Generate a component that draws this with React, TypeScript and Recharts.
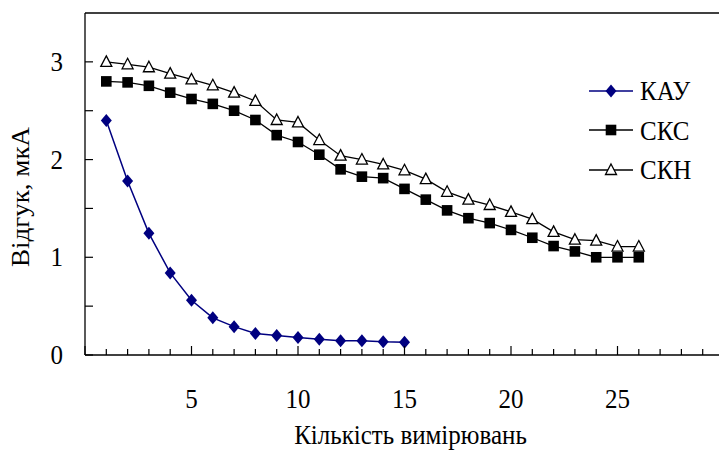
import React from 'react';
import { LineChart, Line, XAxis, YAxis, ReferenceLine, Legend } from 'recharts';

// measurement number (x) and the three sensor responses, µA
const counts = [1, 2, 3, 4, 5, 6, 7, 8, 9, 10, 11, 12, 13, 14, 15, 16, 17, 18, 19, 20, 21, 22, 23, 24, 25, 26];
const kau = [2.40, 1.78, 1.245, 0.84, 0.56, 0.38, 0.29, 0.22, 0.20, 0.18, 0.16, 0.145, 0.145, 0.135, 0.13];
const sks = [2.80, 2.79, 2.755, 2.685, 2.62, 2.57, 2.50, 2.405, 2.25, 2.18, 2.05, 1.90, 1.825, 1.81, 1.70, 1.59, 1.48, 1.40, 1.35, 1.28, 1.20, 1.115, 1.06, 1.00, 1.00, 1.00];
const skn = [3.00, 2.975, 2.945, 2.88, 2.82, 2.76, 2.685, 2.60, 2.405, 2.38, 2.20, 2.04, 2.00, 1.95, 1.89, 1.80, 1.67, 1.59, 1.535, 1.465, 1.39, 1.26, 1.18, 1.17, 1.11, 1.11];

const xTicks = [0, 1, 2, 3, 4, 5, 6, 7, 8, 9, 10, 11, 12, 13, 14, 15, 16, 17, 18, 19, 20, 21, 22, 23, 24, 25, 26, 27, 28, 29, 30];
const xLabels = [5, 10, 15, 20, 25];
const yTicks = [0, 0.5, 1, 1.5, 2, 2.5, 3];
const yLabels = [0, 1, 2, 3];

const data = counts.map((n, i) => ({ n, kau: kau[i] ?? null, sks: sks[i] ?? null, skn: skn[i] ?? null }));

const FONT = 'Liberation Serif';
const FS = 25;
const STRETCH = 1.08; // the source picture is a little taller than wide
const NAVY = '#000080';

const Diamond = ({ cx, cy }: any) => (
    <path d={`M${cx} ${cy - 6.5}L${cx + 5.5} ${cy}L${cx} ${cy + 6.5}L${cx - 5.5} ${cy}Z`} fill={NAVY} />
);
const Square = ({ cx, cy }: any) => (
    <rect x={cx - 5.3} y={cy - 5.3} width={10.6} height={10.6} fill="#000" />
);
const Triangle = ({ cx, cy }: any) => (
    <path d={`M${cx} ${cy - 6}L${cx + 5.5} ${cy + 4.5}L${cx - 5.5} ${cy + 4.5}Z`} fill="#fff" stroke="#000" strokeWidth={1.3} />
);

const series = [
    { key: 'kau', name: 'КАУ', color: NAVY, width: 1.5, shape: Diamond },
    { key: 'sks', name: 'СКС', color: '#000', width: 1.3, shape: Square },
    { key: 'skn', name: 'СКН', color: '#000', width: 1.3, shape: Triangle },
];

const dotFor = (Shape: any) => (p: any) => {
    if (p.cx == null || p.cy == null || p.value == null) return <g key={`e-${p.index}`} />;
    return <Shape key={`m-${p.index}`} cx={p.cx} cy={p.cy} />;
};

// text drawn with its baseline at (x, y), slightly stretched upward
const Txt = ({ x, y, anchor = 'middle', rotate = 0, children }: any) => (
    <text transform={`translate(${x},${y}) scale(1,${STRETCH}) rotate(${rotate})`} x={0} y={0}
        textAnchor={anchor} fontFamily={FONT} fontSize={FS} fill="#000">{children}</text>
);

const XTick = ({ x, y, payload }: any) => {
    const v = payload.value;
    const major = v % 5 === 0;
    return (
        <g>
            <line x1={x} x2={x} y1={y} y2={y - (major ? 9 : 6)} stroke="#000" strokeWidth={1.2} />
            {xLabels.includes(v) && <Txt x={x} y={y + 53}>{v}</Txt>}
        </g>
    );
};

const YTick = ({ x, y, payload }: any) => {
    const v = payload.value;
    return (
        <g>
            <line x1={x} x2={x + 8} y1={y} y2={y} stroke="#000" strokeWidth={1.2} />
            {yLabels.includes(v) && <Txt x={x - 22} y={y + 9} anchor="end">{v}</Txt>}
        </g>
    );
};

const YTitle = ({ viewBox }: any) => (
    <Txt x={viewBox.x + 29} y={viewBox.y + viewBox.height / 2 + 13} rotate={-90}>Відгук, мкА</Txt>
);

const XTitle = ({ viewBox }: any) => (
    <Txt x={viewBox.x + viewBox.width / 2 + 6} y={viewBox.y + 89}>Кількість вимірювань</Txt>
);

const LegendBox = () => (
    <div style={{ fontFamily: FONT, fontSize: FS, color: '#000' }}>
        {series.map(s => {
            const Shape = s.shape;
            return (
                <div key={s.key} style={{ display: 'flex', alignItems: 'center', height: 39.5 }}>
                    <svg width={46} height={20}>
                        <line x1={1} x2={45} y1={10} y2={10} stroke={s.color} strokeWidth={1.5} />
                        <Shape cx={23} cy={10} />
                    </svg>
                    <span style={{ marginLeft: 6, lineHeight: '25px', display: 'inline-block', transform: `scaleY(${STRETCH})` }}>{s.name}</span>
                </div>
            );
        })}
    </div>
);

const App: React.FC = () => {
    return (
        <div style={{ width: 719, height: 452, overflow: 'hidden', background: '#fff' }}>
            <style>{'body{margin:0;overflow:hidden;}'}</style>
            <LineChart width={740} height={452} data={data} margin={{ top: 13, right: 16, bottom: 0, left: 0 }}>
                <XAxis dataKey="n" type="number" domain={[0, 30]} ticks={xTicks} interval={0}
                    height={97} tickSize={0} tickMargin={0} tickLine={false}
                    axisLine={{ stroke: '#000', strokeWidth: 1.3 }} tick={<XTick />} label={<XTitle />} />
                <YAxis type="number" domain={[0, 3.5]} ticks={yTicks} interval={0}
                    width={85} tickSize={0} tickMargin={0} tickLine={false}
                    axisLine={{ stroke: '#000', strokeWidth: 1.3 }} tick={<YTick />} label={<YTitle />} />
                <ReferenceLine y={3.5} stroke="#000" strokeWidth={1.3} />
                <Legend layout="vertical" align="center" verticalAlign="middle" content={<LegendBox />}
                    wrapperStyle={{ left: 588, top: 71, width: 130 }} />
                {series.map(s => (
                    <Line key={s.key} dataKey={s.key} name={s.name} stroke={s.color} strokeWidth={s.width}
                        dot={dotFor(s.shape)} activeDot={false} isAnimationActive={false} />
                ))}
            </LineChart>
        </div>
    );
};

export default App;
